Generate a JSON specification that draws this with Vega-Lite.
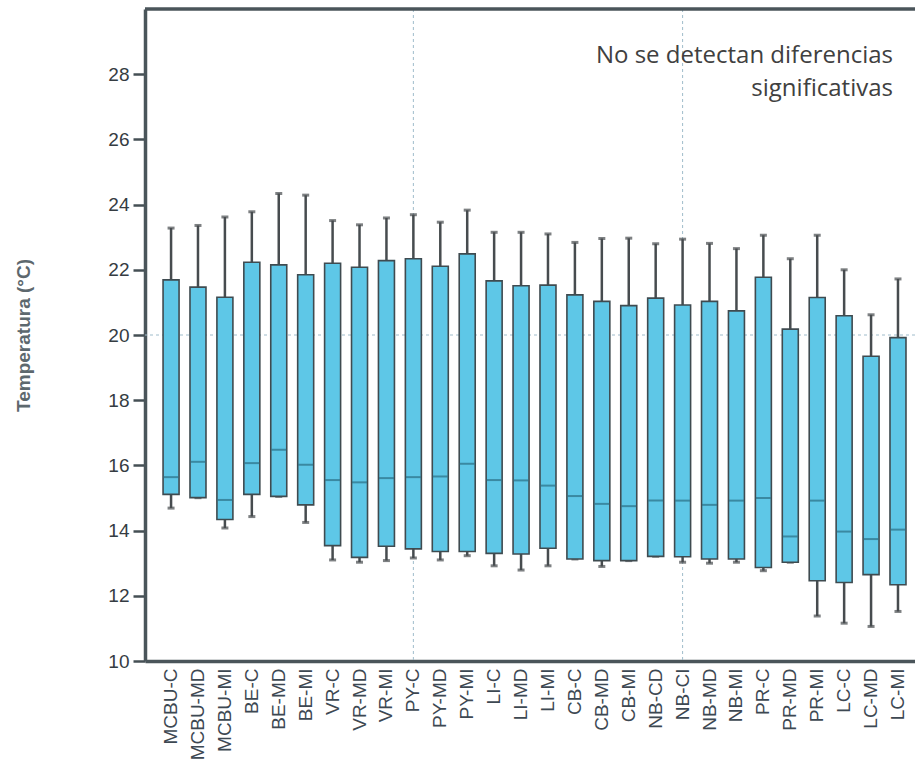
{
  "$schema": "https://vega.github.io/schema/vega-lite/v6.json",
  "autosize": "none",
  "width": 770,
  "height": 652,
  "padding": {"left": 145, "top": 9, "right": 0, "bottom": 110},
  "background": "white",
  "config": {
    "view": {"stroke": null},
    "font": "Liberation Sans"
  },
  "data": {
    "values": [
      {"cat": "MCBU-C", "lo": 14.69, "q1": 15.11, "med": 15.64, "q3": 21.69, "hi": 23.28},
      {"cat": "MCBU-MD", "lo": 15.01, "q1": 15.01, "med": 16.11, "q3": 21.47, "hi": 23.36},
      {"cat": "MCBU-MI", "lo": 14.08, "q1": 14.34, "med": 14.94, "q3": 21.16, "hi": 23.62},
      {"cat": "BE-C", "lo": 14.43, "q1": 15.11, "med": 16.07, "q3": 22.23, "hi": 23.78},
      {"cat": "BE-MD", "lo": 15.05, "q1": 15.05, "med": 16.48, "q3": 22.15, "hi": 24.34},
      {"cat": "BE-MI", "lo": 14.25, "q1": 14.79, "med": 16.02, "q3": 21.85, "hi": 24.29},
      {"cat": "VR-C", "lo": 13.10, "q1": 13.54, "med": 15.55, "q3": 22.20, "hi": 23.51},
      {"cat": "VR-MD", "lo": 13.03, "q1": 13.18, "med": 15.48, "q3": 22.08, "hi": 23.38},
      {"cat": "VR-MI", "lo": 13.08, "q1": 13.52, "med": 15.61, "q3": 22.28, "hi": 23.59},
      {"cat": "PY-C", "lo": 13.16, "q1": 13.44, "med": 15.64, "q3": 22.34, "hi": 23.69},
      {"cat": "PY-MD", "lo": 13.10, "q1": 13.36, "med": 15.66, "q3": 22.11, "hi": 23.46},
      {"cat": "PY-MI", "lo": 13.23, "q1": 13.36, "med": 16.05, "q3": 22.49, "hi": 23.83},
      {"cat": "LI-C", "lo": 12.92, "q1": 13.30, "med": 15.55, "q3": 21.66, "hi": 23.15},
      {"cat": "LI-MD", "lo": 12.79, "q1": 13.28, "med": 15.54, "q3": 21.51, "hi": 23.15},
      {"cat": "LI-MI", "lo": 12.92, "q1": 13.46, "med": 15.38, "q3": 21.53, "hi": 23.10},
      {"cat": "CB-C", "lo": 13.13, "q1": 13.13, "med": 15.06, "q3": 21.23, "hi": 22.84},
      {"cat": "CB-MD", "lo": 12.90, "q1": 13.08, "med": 14.82, "q3": 21.03, "hi": 22.96},
      {"cat": "CB-MI", "lo": 13.08, "q1": 13.08, "med": 14.75, "q3": 20.90, "hi": 22.97},
      {"cat": "NB-CD", "lo": 13.21, "q1": 13.21, "med": 14.92, "q3": 21.13, "hi": 22.80},
      {"cat": "NB-CI", "lo": 13.03, "q1": 13.20, "med": 14.92, "q3": 20.92, "hi": 22.94},
      {"cat": "NB-MD", "lo": 13.00, "q1": 13.13, "med": 14.79, "q3": 21.03, "hi": 22.81},
      {"cat": "NB-MI", "lo": 13.03, "q1": 13.13, "med": 14.92, "q3": 20.74, "hi": 22.65},
      {"cat": "PR-C", "lo": 12.77, "q1": 12.87, "med": 15.00, "q3": 21.77, "hi": 23.06},
      {"cat": "PR-MD", "lo": 13.03, "q1": 13.03, "med": 13.82, "q3": 20.18, "hi": 22.34},
      {"cat": "PR-MI", "lo": 11.38, "q1": 12.46, "med": 14.92, "q3": 21.15, "hi": 23.06},
      {"cat": "LC-C", "lo": 11.16, "q1": 12.41, "med": 13.97, "q3": 20.59, "hi": 22.00},
      {"cat": "LC-MD", "lo": 11.06, "q1": 12.65, "med": 13.74, "q3": 19.35, "hi": 20.62},
      {"cat": "LC-MI", "lo": 11.52, "q1": 12.34, "med": 14.03, "q3": 19.92, "hi": 21.72}
    ]
  },
  "encoding": {
    "x": {
      "field": "cat",
      "type": "nominal",
      "sort": null,
      "scale": {
        "type": "band",
        "domain": ["MCBU-C","MCBU-MD","MCBU-MI","BE-C","BE-MD","BE-MI","VR-C","VR-MD","VR-MI","PY-C","PY-MD","PY-MI","LI-C","LI-MD","LI-MI","CB-C","CB-MD","CB-MI","NB-CD","NB-CI","NB-MD","NB-MI","PR-C","PR-MD","PR-MI","LC-C","LC-MD","LC-MI"],
        "paddingInner": 0,
        "paddingOuter": 0.3,
        "align": 0.78
      },
      "axis": {
        "title": null,
        "labelAngle": 270,
        "labelFontSize": 19,
        "labelColor": "#3d4852",
        "labelPadding": 7,
        "ticks": false,
        "domainColor": "#4a555a",
        "domainWidth": 3.5,
        "grid": false
      }
    }
  },
  "layer": [
    {
      "data": {"values": [{"g": 20}]},
      "mark": {"type": "rule", "color": "#9fbccb", "strokeDash": [3, 3], "strokeWidth": 1},
      "encoding": {"x": null, "y": {"field": "g", "type": "quantitative"}}
    },
    {
      "data": {"values": [{"gc": "PY-C"}, {"gc": "NB-CI"}]},
      "mark": {"type": "rule", "color": "#9fbccb", "strokeDash": [3, 3], "strokeWidth": 1},
      "encoding": {"x": {"field": "gc", "type": "nominal"}}
    },
    {
      "mark": {"type": "rule", "color": "#474c4f", "strokeWidth": 2.5},
      "encoding": {
        "y": {
          "field": "lo",
          "type": "quantitative",
          "scale": {"domain": [10, 30], "nice": false, "zero": false},
          "axis": {
            "title": "Temperatura (°C)",
            "titleFontSize": 19,
            "titleFontWeight": "bold",
            "titleColor": "#5d686e",
            "titlePadding": 74,
            "values": [10, 12, 14, 16, 18, 20, 22, 24, 26, 28],
            "labelFontSize": 19,
            "labelColor": "#353c42",
            "labelPadding": 4,
            "tickSize": 12,
            "tickWidth": 2.5,
            "tickColor": "#454f54",
            "domainColor": "#4a555a",
            "domainWidth": 3.5,
            "grid": false
          }
        },
        "y2": {"field": "hi"}
      }
    },
    {
      "mark": {"type": "tick", "color": "#474c4f", "size": 7, "thickness": 3},
      "encoding": {"y": {"field": "lo", "type": "quantitative"}}
    },
    {
      "mark": {"type": "tick", "color": "#474c4f", "size": 7, "thickness": 3},
      "encoding": {"y": {"field": "hi", "type": "quantitative"}}
    },
    {
      "mark": {"type": "bar", "size": 16, "fill": "#5ec7e7", "stroke": "#3f4b50", "strokeWidth": 1.6},
      "encoding": {
        "y": {"field": "q1", "type": "quantitative"},
        "y2": {"field": "q3"}
      }
    },
    {
      "mark": {"type": "tick", "color": "#2b6f84", "size": 15, "thickness": 2},
      "encoding": {"y": {"field": "med", "type": "quantitative"}}
    },
    {
      "data": {"values": [{"t": 30}]},
      "mark": {"type": "rule", "color": "#4a555a", "strokeWidth": 3.5},
      "encoding": {"x": null, "y": {"field": "t", "type": "quantitative"}}
    },
    {
      "data": {"values": [{"lab": "No se detectan diferencias\nsignificativas"}]},
      "mark": {"type": "text", "align": "right", "baseline": "alphabetic", "lineBreak": "\n", "lineHeight": 33, "fontSize": 24, "font": "Open Sans", "color": "#404040", "dx": -5},
      "encoding": {
        "x": {"datum": "LC-MI"},
        "y": {"datum": 28.35},
        "text": {"field": "lab"}
      }
    }
  ]
}
